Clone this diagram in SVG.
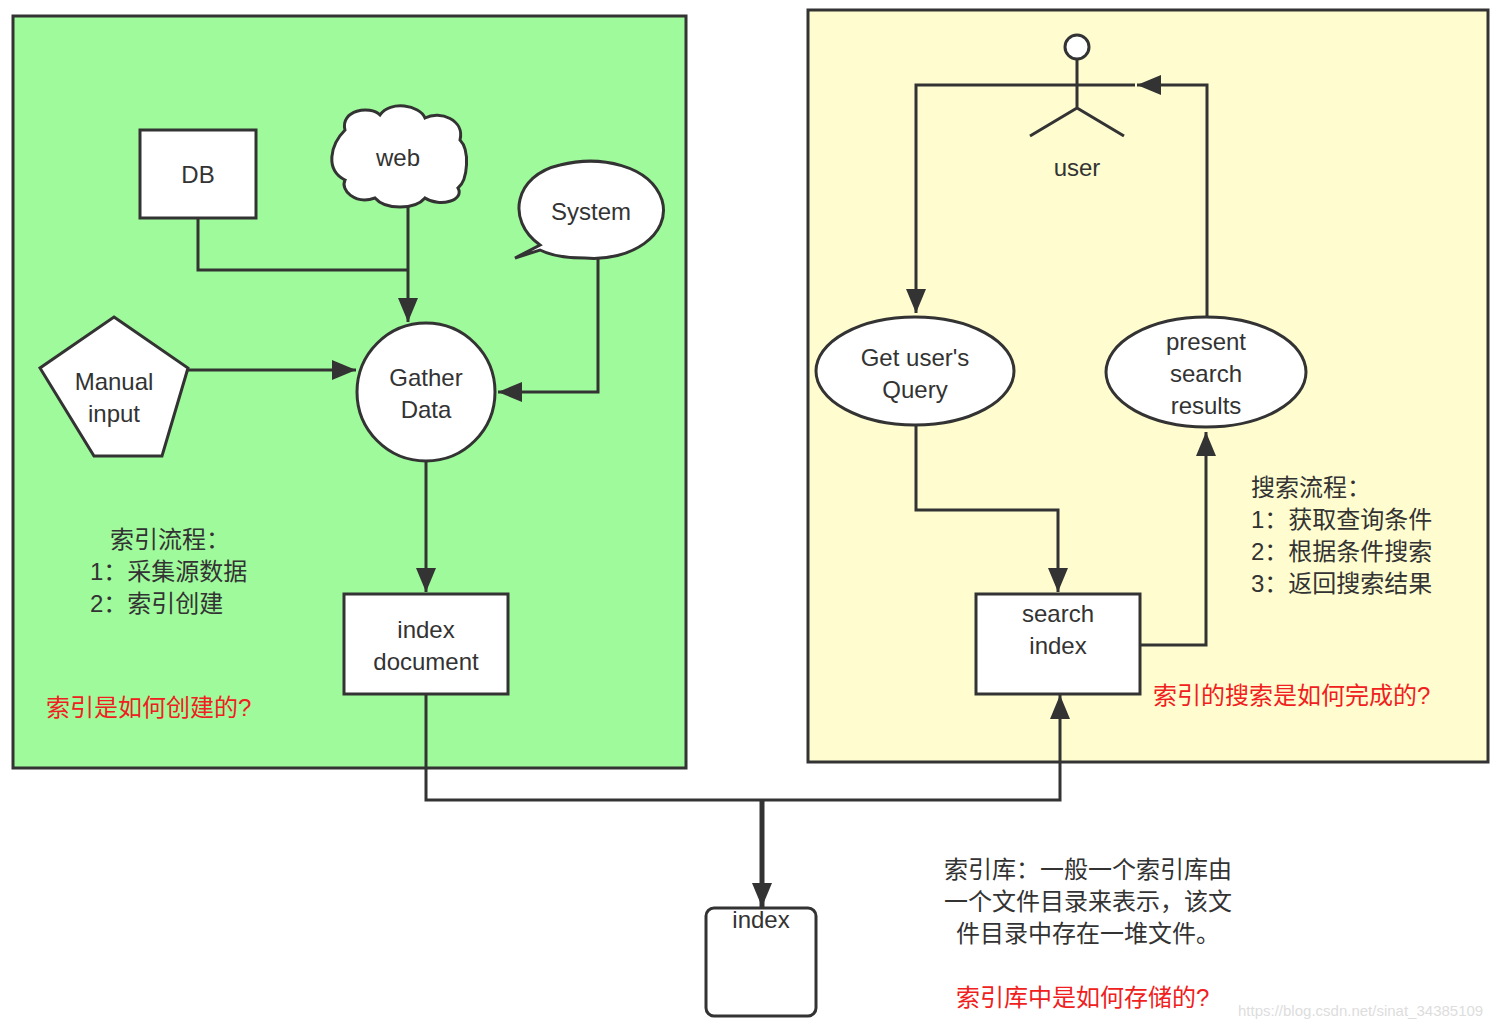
<svg xmlns="http://www.w3.org/2000/svg" width="1506" height="1028" viewBox="0 0 1506 1028">
<style>
text{font-family:"Liberation Sans","Noto Sans CJK SC",sans-serif;font-size:24px;fill:#333;text-anchor:middle}
.n{fill:#fff;stroke:#333;stroke-width:3}
.c{fill:none;stroke:#333;stroke-width:3}
.red{fill:#f02020}
.l{text-anchor:start}
</style>
<defs><marker id="b" viewBox="0 0 24 20" refX="24" refY="10" markerWidth="24" markerHeight="20" markerUnits="userSpaceOnUse" orient="auto"><path d="M0,0L24,10L0,20z" fill="#333"/></marker></defs>
<rect x="13" y="16" width="673" height="752" fill="#9ffa9c" stroke="#333" stroke-width="3"/>
<rect x="808" y="10" width="680" height="752" fill="#fffdd0" stroke="#333" stroke-width="3"/>
<g id="connectors">
<path class="c" d="M198,218V270H408"/>
<path class="c" d="M408,205V322" marker-end="url(#b)"/>
<path class="c" d="M188,370H356" marker-end="url(#b)"/>
<path class="c" d="M598,258V392H498" marker-end="url(#b)"/>
<path class="c" d="M426,462V592" marker-end="url(#b)"/>
<path class="c" d="M426,694V800H1060V695" marker-end="url(#b)"/>
<path class="c" d="M762,800V907" style="stroke-width:5" marker-end="url(#b)"/>
<path class="c" d="M1018,85H916V313" marker-end="url(#b)"/>
<path class="c" d="M1207,317V85H1137" marker-end="url(#b)"/>
<path class="c" d="M916,425V510H1058V592" marker-end="url(#b)"/>
<path class="c" d="M1140,645H1206V432" marker-end="url(#b)"/>
</g>
<g id="db"><rect class="n" x="140" y="130" width="116" height="88"/><text x="198" y="183">DB</text></g>
<g id="web"><path class="n" d="M345,130C340,110 370,105 380,115C390,100 420,105 425,118C440,110 465,120 460,140C470,150 468,180 458,188C465,200 440,208 425,198C415,210 385,210 375,198C355,205 340,190 345,180C325,170 330,145 345,130Z"/><text x="398" y="166">web</text></g>
<g id="system"><path class="n" d="M540,245C505,220 515,175 560,165C600,155 650,165 662,200C672,235 630,262 585,258C565,258 550,255 540,250L515,258Z"/><text x="591" y="220">System</text></g>
<g id="manual"><polygon class="n" points="114,317 188,368 162,456 94,456 40,368"/><text x="114" y="390">Manual</text><text x="114" y="422">input</text></g>
<g id="gather"><circle class="n" cx="426" cy="392" r="69"/><text x="426" y="386">Gather</text><text x="426" y="418">Data</text></g>
<g id="indexdoc"><rect class="n" x="344" y="594" width="164" height="100"/><text x="426" y="638">index</text><text x="426" y="670">document</text></g>
<g id="index"><rect class="n" x="706" y="908" width="110" height="108" rx="8"/><text x="761" y="928">index</text></g>
<g id="user"><circle class="n" cx="1077" cy="47" r="12"/><path class="c" d="M1077,59V108M1018,85H1135M1030,136L1077,108L1124,136"/><text x="1077" y="176">user</text></g>
<g id="query"><ellipse class="n" cx="915" cy="371" rx="99" ry="54"/><text x="915" y="366">Get user's</text><text x="915" y="398">Query</text></g>
<g id="present"><ellipse class="n" cx="1206" cy="372" rx="100" ry="55"/><text x="1206" y="350">present</text><text x="1206" y="382">search</text><text x="1206" y="414">results</text></g>
<g id="search"><rect class="n" x="976" y="594" width="164" height="100"/><text x="1058" y="622">search</text><text x="1058" y="654">index</text></g>
<g id="notes">
<text class="l" x="110" y="548">索引流程：</text>
<text class="l" x="90" y="580">1：采集源数据</text>
<text class="l" x="90" y="612">2：索引创建</text>
<text class="l red" x="46" y="716">索引是如何创建的?</text>
<text class="l" x="1251" y="496">搜索流程：</text>
<text class="l" x="1251" y="528">1：获取查询条件</text>
<text class="l" x="1251" y="560">2：根据条件搜索</text>
<text class="l" x="1251" y="592">3：返回搜索结果</text>
<text class="l red" x="1153" y="704">索引的搜索是如何完成的?</text>
<text class="l" x="944" y="878">索引库：一般一个索引库由</text>
<text class="l" x="944" y="910">一个文件目录来表示，该文</text>
<text class="l" x="956" y="942">件目录中存在一堆文件。</text>
<text class="l red" x="956" y="1006">索引库中是如何存储的?</text>
<text class="l" x="1238" y="1016" style="font-size:15px;fill:#ddd">https://blog.csdn.net/sinat_34385109</text>
</g>
</svg>
